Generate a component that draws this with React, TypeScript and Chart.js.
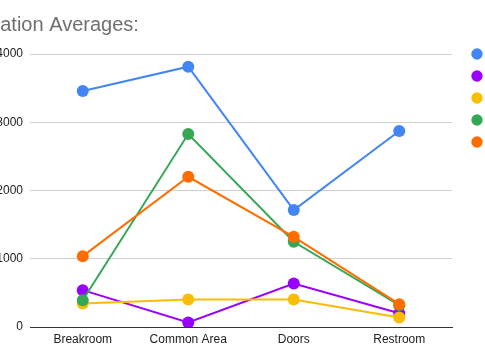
import React, { useEffect, useRef } from "react";
import { Chart, registerables } from "chart.js";

Chart.register(...registerables);

const categories = ["Breakroom", "Common Area", "Doors", "Restroom"];
const seriesNames = ["Week 1 average", "Week 2 average", "Week 3 average", "Week 4 average", "Week 5 average"];
const blueValues = [3457, 3814, 1713, 2871];
const purpleValues = [540, 66, 638, 202];
const yellowValues = [345, 403, 403, 139];
const greenValues = [393, 2827, 1248, 320];
const orangeValues = [1038, 2201, 1321, 334];
const seriesColors = ["#4285F4", "#9900FF", "#FBBC04", "#34A853", "#FF6D01"];
const yTicks = [0, 1000, 2000, 3000, 4000];
const titleText = "Location Averages:";

const OFFSET_LEFT = 40;
const CANVAS_W = 585;
const CANVAS_H = 360;

export default function App() {
  const ref = useRef<HTMLCanvasElement | null>(null);

  useEffect(() => {
    if (!ref.current) return;
    const values = [blueValues, purpleValues, yellowValues, greenValues, orangeValues];
    const datasets = values.map((v, i) => ({
      label: seriesNames[i],
      data: v,
      borderColor: seriesColors[i],
      backgroundColor: seriesColors[i],
      pointBackgroundColor: seriesColors[i],
      pointBorderColor: seriesColors[i],
      pointRadius: 6,
      pointBorderWidth: 0,
      borderWidth: 2,
      tension: 0,
      order: values.length - i,
    }));

    const legendShift = {
      id: "legendShift",
      beforeDraw(chart: any) {
        const lg = chart.legend;
        if (lg && !lg._shifted) {
          lg.left += 11;
          lg.right += 11;
          lg.top -= 16;
          lg.bottom -= 16;
          lg._shifted = true;
        }
      },
    };

    const chart = new Chart(ref.current, {
      type: "line",
      data: { labels: categories, datasets },
      plugins: [legendShift],
      options: {
        animation: false,
        responsive: false,
        layout: { padding: { left: 8, right: 0, top: 0, bottom: 0 } },
        plugins: {
          title: {
            display: true,
            text: titleText,
            align: "start",
            color: "#6f6f6f",
            font: { family: "Arial, 'Liberation Sans', sans-serif", size: 20, weight: "normal" },
            padding: { top: 13, bottom: 17 },
          },
          legend: {
            display: true,
            position: "right",
            align: "start",
            fullSize: false,
            maxWidth: 93,
            labels: {
              usePointStyle: true,
              pointStyle: "circle",
              boxWidth: 8,
              boxHeight: 8,
              padding: 10,
              color: "#222",
              font: { family: "Arial, 'Liberation Sans', sans-serif", size: 12 },
              sort: (a: any, b: any) => a.datasetIndex - b.datasetIndex,
            },
          },
          tooltip: { enabled: false },
        },
        scales: {
          x: {
            offset: true,
            grid: { display: false, offset: true, drawTicks: false },
            border: { display: true, color: "#333", width: 1 },
            ticks: {
              color: "#222",
              padding: 5,
              font: { family: "Arial, 'Liberation Sans', sans-serif", size: 12 },
              maxRotation: 0,
            },
            afterFit(scale: any) {
              scale.height = 33;
            },
          },
          y: {
            min: 0,
            max: 4000,
            afterBuildTicks(scale: any) {
              scale.ticks = yTicks.map((v) => ({ value: v }));
            },
            grid: {
              drawTicks: false,
              color: (ctx: any) => (ctx.tick && ctx.tick.value === 0 ? "#333" : "#d0d0d0"),
              lineWidth: 1,
            },
            border: { display: false },
            ticks: {
              color: "#222",
              padding: 7,
              font: { family: "Arial, 'Liberation Sans', sans-serif", size: 12 },
              callback: (v: any) => String(v),
            },
            afterFit(scale: any) {
              scale.width = 62;
            },
          },
        },
      },
    });
    return () => chart.destroy();
  }, []);

  return (
    <div style={{ position: "fixed", left: 0, top: 0, width: 485, height: 360, overflow: "hidden", background: "#fff" }}>
      <canvas
        ref={ref}
        width={CANVAS_W}
        height={CANVAS_H}
        style={{ position: "absolute", left: -OFFSET_LEFT, top: 0, width: CANVAS_W, height: CANVAS_H }}
      />
    </div>
  );
}
